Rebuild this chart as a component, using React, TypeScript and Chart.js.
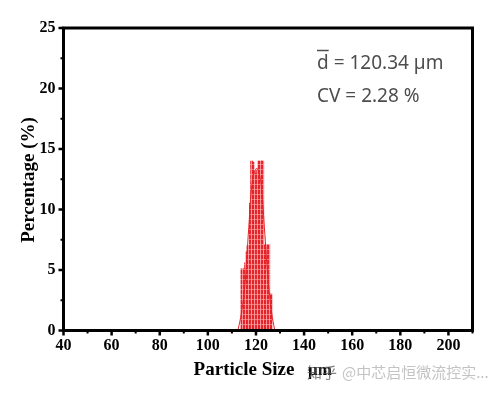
import React, { useEffect, useRef } from 'react';
import { Chart, registerables } from 'chart.js';

Chart.register(...registerables);

// Histogram bins (µm, 0.5 µm wide) and their percentages
const binCenters = [114, 114.5, 115, 115.5, 116, 116.5, 117, 117.5, 118, 118.5, 119, 119.5, 120, 120.5, 121, 121.5, 122, 122.5, 123, 123.5, 124, 124.5, 125, 125.5, 126, 126.5];
const percentages = [5.1, 5.1, 5.1, 5.6, 6.5, 7.0, 7.0, 10.5, 14.0, 14.0, 13.9, 13.2, 13.0, 13.3, 14.0, 14.0, 14.0, 14.0, 14.0, 7.1, 7.1, 7.1, 7.1, 7.1, 3.0, 3.0];

// Fitted envelope curve
const fitSizes = [112.5, 114, 115.5, 117, 118.5, 120.3, 122, 123.5, 125, 126.5, 127.8];
const fitValues = [0, 1.5, 4.0, 8.5, 12.3, 13.4, 12.3, 8.5, 4.3, 1.5, 0];

const xMin = 40;
const xMax = 210;
const xTickValues = [40, 60, 80, 100, 120, 140, 160, 180, 200];
const xMinorValues = [50, 70, 90, 110, 130, 150, 170, 190, 210];
const yTickValues = [0, 5, 10, 15, 20, 25];
const yMinorValues = [2.5, 7.5, 12.5, 17.5, 22.5];

const xTitle = 'Particle Size';
const xUnit = 'μm';
const yTitle = 'Percentage (%)';
const meanText = ' = 120.34 µm';
const cvText = 'CV = 2.28 %';
const watermarkA = '知乎';
const watermarkB = '@中芯启恒微流控实...';

const SERIF = '"Liberation Serif", "Times New Roman", serif';

function makePattern(): CanvasPattern | string {
  const c = document.createElement('canvas');
  c.width = 3;
  c.height = 5;
  const g = c.getContext('2d');
  if (!g) return '#e3232a';
  g.fillStyle = '#e3232a';
  g.fillRect(0, 0, 3, 5);
  g.fillStyle = 'rgba(255,160,160,0.9)';
  g.fillRect(2, 0, 1, 5);
  g.fillStyle = 'rgba(255,170,170,0.6)';
  g.fillRect(0, 4, 3, 1);
  const p = g.createPattern(c, 'repeat');
  return p || '#e3232a';
}

const decorPlugin = {
  id: 'decor',
  afterDraw(chart: any) {
    const { ctx, chartArea: a, scales } = chart;
    const xs = scales.x;
    const ys = scales.y;
    ctx.save();
    // frame
    ctx.strokeStyle = '#000';
    ctx.lineWidth = 3;
    ctx.strokeRect(a.left, a.top, a.right - a.left, a.bottom - a.top);
    // x ticks
    ctx.lineWidth = 2.5;
    ctx.beginPath();
    xTickValues.forEach((v) => {
      const px = xs.getPixelForValue(v);
      ctx.moveTo(px, a.bottom);
      ctx.lineTo(px, a.bottom + 5);
    });
    ctx.stroke();
    ctx.lineWidth = 2;
    ctx.beginPath();
    xMinorValues.forEach((v) => {
      const px = xs.getPixelForValue(v);
      ctx.moveTo(px, a.bottom);
      ctx.lineTo(px, a.bottom + 3);
    });
    ctx.stroke();
    // y ticks
    ctx.lineWidth = 2.5;
    ctx.beginPath();
    yTickValues.forEach((v) => {
      const py = ys.getPixelForValue(v);
      ctx.moveTo(a.left, py);
      ctx.lineTo(a.left - 5, py);
    });
    ctx.stroke();
    ctx.lineWidth = 2;
    ctx.beginPath();
    yMinorValues.forEach((v) => {
      const py = ys.getPixelForValue(v);
      ctx.moveTo(a.left, py);
      ctx.lineTo(a.left - 3, py);
    });
    ctx.stroke();

    // axis titles
    ctx.fillStyle = '#000';
    ctx.font = `bold 19px ${SERIF}`;
    ctx.textAlign = 'center';
    ctx.textBaseline = 'alphabetic';
    ctx.fillText(xTitle, 244, 375);
    ctx.font = `bold 17px ${SERIF}`;
    ctx.textAlign = 'left';
    ctx.fillText(xUnit, 308, 375);

    ctx.save();
    ctx.translate(34, 180);
    ctx.rotate(-Math.PI / 2);
    ctx.font = `bold 19px ${SERIF}`;
    ctx.textAlign = 'center';
    ctx.fillText(yTitle, 0, 0);
    ctx.restore();

    // annotation
    ctx.fillStyle = '#4d4d4d';
    ctx.font = '19px "Noto Sans", sans-serif';
    ctx.textAlign = 'left';
    ctx.fillText('d', 317, 69);
    const dW = ctx.measureText('d').width;
    ctx.fillText(meanText, 317 + dW, 69);
    ctx.strokeStyle = '#4d4d4d';
    ctx.lineWidth = 1.5;
    ctx.beginPath();
    ctx.moveTo(317, 50.5);
    ctx.lineTo(317 + dW, 50.5);
    ctx.stroke();
    ctx.fillText(cvText, 317, 102);

    // watermark
    ctx.font = '15px "Noto Sans CJK SC", sans-serif';
    ctx.fillStyle = 'rgba(90,90,90,0.75)';
    ctx.fillText(watermarkA, 307, 378);
    ctx.fillStyle = 'rgba(185,185,185,0.85)';
    ctx.fillText(watermarkB, 342, 378);
    ctx.restore();
  },
};

export default function App() {
  const ref = useRef<HTMLCanvasElement>(null);
  useEffect(() => {
    if (!ref.current) return;
    const chart = new Chart(ref.current, {
      type: 'bar',
      data: {
        datasets: [
          {
            type: 'bar',
            data: binCenters.map((x, i) => ({ x, y: percentages[i] })),
            backgroundColor: makePattern() as any,
            borderColor: '#e3232a',
            borderWidth: 0,
            barPercentage: 1,
            categoryPercentage: 1,
            order: 2,
          } as any,
          {
            type: 'line',
            data: fitSizes.map((x, i) => ({ x, y: fitValues[i] })),
            borderColor: '#e3232a',
            borderWidth: 1,
            pointRadius: 0,
            tension: 0.4,
            fill: false,
            order: 1,
          } as any,
        ],
      },
      options: {
        responsive: false,
        animation: false,
        layout: { padding: { top: 28, right: 19.5, left: 0, bottom: 0 } },
        plugins: { legend: { display: false }, tooltip: { enabled: false } },
        scales: {
          x: {
            type: 'linear',
            min: xMin,
            max: xMax,
            offset: false,
            grid: { display: false, drawTicks: false },
            border: { display: false },
            ticks: {
              stepSize: 20,
              padding: 6,
              color: '#000',
              font: { family: SERIF, size: 16, weight: 'bold' },
              maxRotation: 0,
            },
            afterBuildTicks: (s: any) => {
              s.ticks = xTickValues.map((v) => ({ value: v }));
            },
            afterFit: (s: any) => {
              s.height = 64.5;
            },
          },
          y: {
            min: 0,
            max: 25,
            grid: { display: false, drawTicks: false },
            border: { display: false },
            ticks: {
              stepSize: 5,
              padding: 8,
              color: '#000',
              font: { family: SERIF, size: 16, weight: 'bold' },
            },
            afterBuildTicks: (s: any) => {
              s.ticks = yTickValues.map((v) => ({ value: v }));
            },
            afterFit: (s: any) => {
              s.width = 63.5;
            },
          },
        },
      } as any,
      plugins: [decorPlugin],
    });
    return () => chart.destroy();
  }, []);
  return (
    <div style={{ position: 'fixed', left: 0, top: 0, width: 492, height: 395, background: '#fff' }}>
      <canvas ref={ref} width={492} height={395} style={{ width: 492, height: 395 }} />
    </div>
  );
}
